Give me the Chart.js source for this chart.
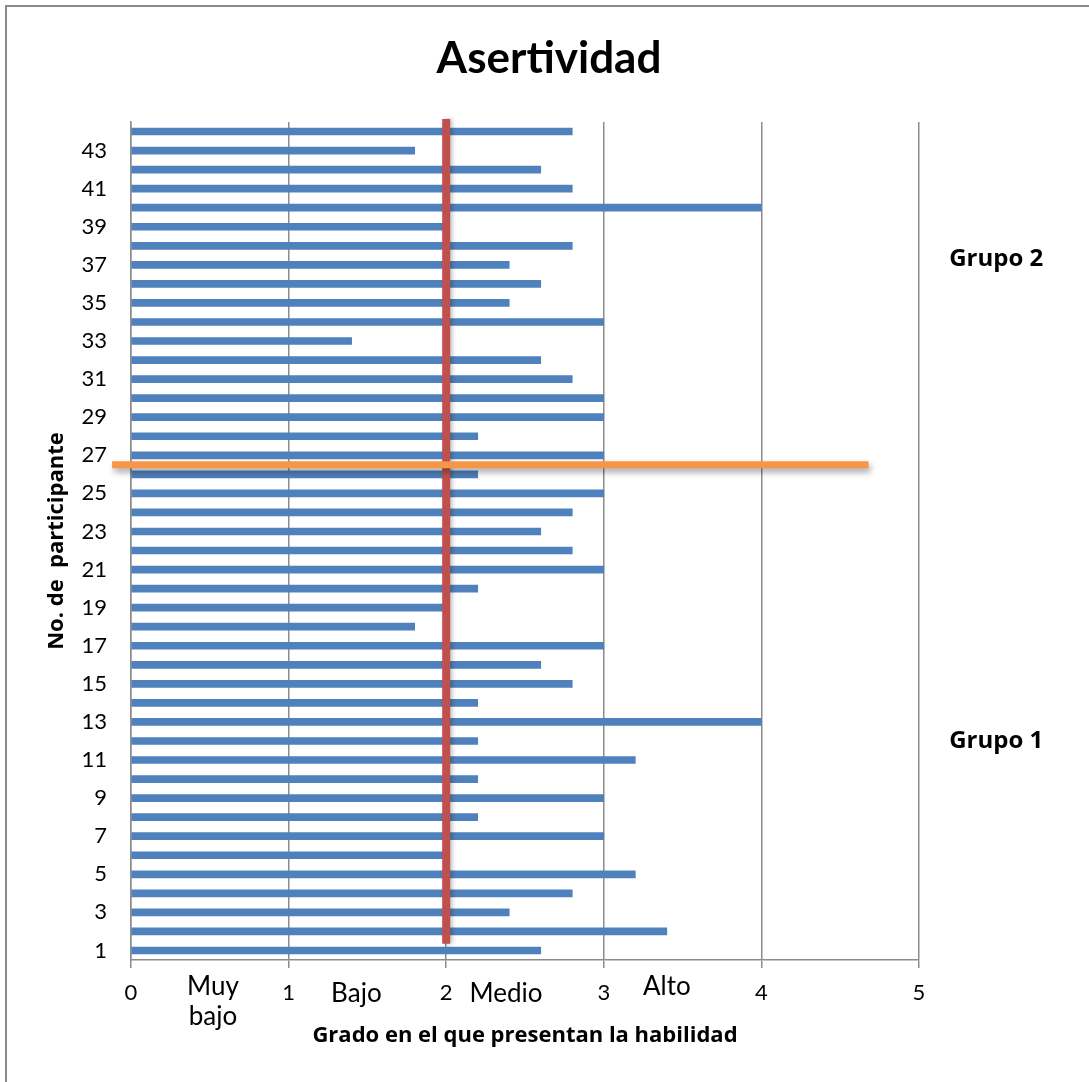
<!DOCTYPE html>
<html>
<head>
<meta charset="utf-8">
<script src="https://cdn.jsdelivr.net/npm/chart.js@4.4.1/dist/chart.umd.min.js"></script>
<style>
  html, body { margin: 0; padding: 0; background: #ffffff; }
  #wrap { position: relative; width: 1089px; height: 1082px; }
  #frame { position: absolute; left: 5px; top: 5px; right: 0; bottom: 0;
           border-left: 2px solid #8a8a8a; border-top: 2px solid #8a8a8a; pointer-events: none; }
  canvas { position: absolute; left: 0; top: 0; }
</style>
</head>
<body>
<div id="wrap">
  <div id="frame"></div>
  <canvas id="chart" width="1089" height="1082"></canvas>
</div>
<script>
// Participant numbers (bottom to top)
const participants = ['1','2','3','4','5','6','7','8','9','10','11','12','13','14','15','16','17','18','19','20','21','22',
  '23','24','25','26','27','28','29','30','31','32','33','34','35','36','37','38','39','40','41','42','43','44'];
// Degree of assertiveness per participant
const asertividad = [2.6, 3.4, 2.4, 2.8, 3.2, 2.0, 3.0, 2.2, 3.0, 2.2, 3.2, 2.2, 4.0, 2.2, 2.8, 2.6, 3.0, 1.8, 2.0, 2.2, 3.0, 2.8,
  2.6, 2.8, 3.0, 2.2, 3.0, 2.2, 3.0, 3.0, 2.8, 2.6, 1.4, 3.0, 2.4, 2.6, 2.4, 2.8, 2.0, 4.0, 2.8, 2.6, 1.8, 2.8];
// Level names shown between the x ticks, and where they sit on the x scale
const niveles = ['Muy bajo', 'Bajo', 'Medio', 'Alto'];
const nivelesX = [0.52, 1.43, 2.38, 3.4];
// Reference value (vertical line) and the boundary between groups (after participant 26)
const referencia = 2;
const limiteGrupos = 25.5;
const grupos = ['Grupo 1', 'Grupo 2'];
const gruposY = [11, 36.3];

const FONT = 'Lato, "Open Sans", "DejaVu Sans", sans-serif';
const BOLD_FONT = '"Open Sans", Lato, "DejaVu Sans", sans-serif';

const overlay = {
  id: 'overlay',
  afterDatasetsDraw(chart) {
    const ctx = chart.ctx;
    const x = chart.scales.x, y = chart.scales.y;
    const area = chart.chartArea;

    // vertical reference line at x = 2
    ctx.save();
    ctx.shadowColor = 'rgba(0,0,0,0.25)';
    ctx.shadowBlur = 4;
    ctx.shadowOffsetX = 2;
    ctx.strokeStyle = '#c0504d';
    ctx.lineWidth = 8;
    ctx.beginPath();
    const xr = x.getPixelForValue(referencia);
    ctx.moveTo(xr, area.top - 3);
    ctx.lineTo(xr, y.getPixelForValue(0.35));
    ctx.stroke();
    ctx.restore();

    // horizontal line separating the two groups
    ctx.save();
    ctx.shadowColor = 'rgba(0,0,0,0.35)';
    ctx.shadowBlur = 6;
    ctx.shadowOffsetX = 2;
    ctx.shadowOffsetY = 4;
    ctx.strokeStyle = '#f79646';
    ctx.lineWidth = 7;
    ctx.beginPath();
    const yg = y.getPixelForValue(limiteGrupos);
    ctx.moveTo(x.getPixelForValue(-0.12), yg);
    ctx.lineTo(x.getPixelForValue(4.68), yg);
    ctx.stroke();
    ctx.restore();
  },
  afterDraw(chart) {
    const ctx = chart.ctx;
    const x = chart.scales.x, y = chart.scales.y;
    ctx.save();
    ctx.fillStyle = '#000000';

    // title
    ctx.font = 'bold 44px ' + FONT;
    ctx.textAlign = 'center';
    ctx.textBaseline = 'alphabetic';
    ctx.fillText('Asertividad', 549, 73);

    // group names
    ctx.font = 'bold 24px ' + BOLD_FONT;
    ctx.textBaseline = 'middle';
    grupos.forEach((g, i) => {
      ctx.fillText(g, x.getPixelForValue(5.49), y.getPixelForValue(gruposY[i]));
    });

    // level names under the axis
    ctx.font = '26px ' + FONT;
    ctx.textBaseline = 'alphabetic';
    niveles.forEach((n, i) => {
      const px = x.getPixelForValue(nivelesX[i]);
      if (n === 'Muy bajo') {
        ctx.fillText('Muy', px, 995);
        ctx.fillText('bajo', px, 1025);
      } else if (n === 'Alto') {
        ctx.fillText(n, px, 995);
      } else {
        ctx.fillText(n, px, 1002);
      }
    });
    ctx.restore();
  }
};

new Chart(document.getElementById('chart'), {
  type: 'bar',
  data: {
    labels: participants,
    datasets: [{
      data: asertividad,
      backgroundColor: '#4f81bd',
      borderWidth: 0,
      barThickness: 7
    }]
  },
  options: {
    indexAxis: 'y',
    responsive: false,
    animation: false,
    layout: { padding: { top: 122, right: 170, left: 0, bottom: 0 } },
    plugins: { legend: { display: false }, title: { display: false }, tooltip: { enabled: false } },
    scales: {
      x: {
        min: 0, max: 5,
        afterFit(s) { s.height = 122; },
        ticks: { stepSize: 1, color: '#000000', font: { family: FONT, size: 22 }, padding: 12 },
        grid: { color: '#8c8c8c', lineWidth: 1.5, drawTicks: true, tickLength: 8 },
        border: { display: true, color: '#8c8c8c', width: 1.5 },
        title: {
          display: true,
          text: 'Grado en el que presentan la habilidad',
          color: '#000000',
          font: { family: BOLD_FONT, size: 22, weight: 'bold' },
          padding: { top: 0, bottom: 33 }
        }
      },
      y: {
        reverse: true,
        afterFit(s) { s.width = 131; },
        ticks: {
          autoSkip: false,
          color: '#000000',
          font: { family: FONT, size: 22 },
          padding: 24,
          callback(v, i) { return i % 2 === 0 ? participants[i] : ''; }
        },
        grid: { display: true, drawOnChartArea: false, drawTicks: false },
        border: { display: true, color: '#8c8c8c', width: 1.5 },
        title: {
          display: true,
          text: 'No. de  participante',
          color: '#000000',
          font: { family: BOLD_FONT, size: 22, weight: 'bold' },
          padding: { top: 44, bottom: 0 }
        }
      }
    }
  },
  plugins: [overlay]
});
</script>
</body>
</html>
